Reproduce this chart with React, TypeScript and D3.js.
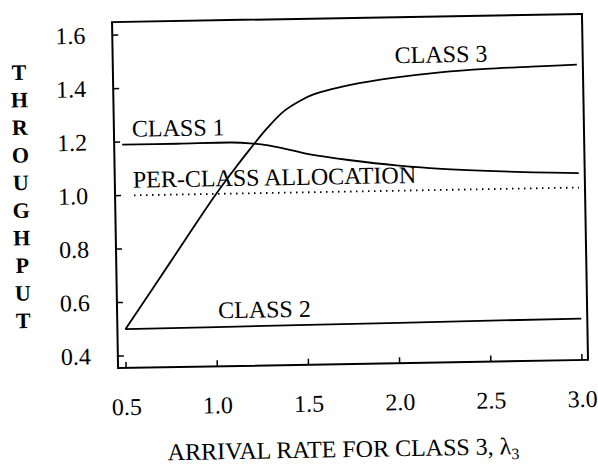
import React from "react";
import * as d3 from "d3";

const xTicks = [0.5, 1.0, 1.5, 2.0, 2.5, 3.0];
const yTicks = [0.4, 0.6, 0.8, 1.0, 1.2, 1.4, 1.6];

const class1X = [0.5, 0.8, 1.1, 1.2, 1.3, 1.4, 1.5, 1.6, 1.75, 2.0, 2.25, 2.5, 2.75, 3.0];
const class1Y = [1.19, 1.19, 1.191, 1.187, 1.178, 1.163, 1.146, 1.133, 1.117, 1.095, 1.079, 1.068, 1.06, 1.054];

const class2X = [0.5, 1.0, 1.5, 2.0, 2.5, 3.0];
const class2Y = [0.5, 0.502, 0.504, 0.506, 0.508, 0.51];

const class3X = [0.5, 0.75, 1.0, 1.1, 1.2, 1.3, 1.39, 1.48, 1.55, 1.66, 1.75, 2.0, 2.25, 2.5, 2.75, 3.0];
const class3Y = [0.5, 0.745, 0.99, 1.08, 1.165, 1.245, 1.305, 1.343, 1.365, 1.385, 1.398, 1.423, 1.44, 1.45, 1.455, 1.46];

const allocX = [0.56, 3.0];
const allocY = [1.0, 1.0];

const yTitle = "THROUGHPUT".split("");

export default function App() {
  const W = 598, H = 471;
  const left = 115, right = 585, top = 18, bottom = 364;
  const x = d3.scaleLinear().domain([0.456, 3.033]).range([left, right]);
  const y = d3.scaleLinear().domain([0.355, 1.649]).range([bottom, top]);

  const mk = (xs: number[], ys: number[], curve: any) =>
    d3.line<number>().x((_, i) => x(xs[i])).y((_, i) => y(ys[i])).curve(curve)(xs.map((_, i) => i)) || "";

  const font = "'Liberation Serif', 'Times New Roman', serif";
  const fs = 24;

  return (
    <svg width={W} height={H} style={{ position: "absolute", left: 0, top: 0, background: "#fff" }}
      fontFamily={font}>
      <rect x={0} y={0} width={W} height={H} fill="#fff" />
      <g transform="rotate(-1, 350, 190)">
        <rect x={left} y={top} width={right - left} height={bottom - top} fill="none" stroke="#000" strokeWidth={2} />
        {xTicks.map((t) => (
          <g key={"xt" + t}>
            <line x1={x(t)} x2={x(t)} y1={bottom} y2={bottom - 6} stroke="#000" strokeWidth={1.5} />
            <text x={x(t)} y={bottom + 47} textAnchor="middle" fontSize={fs}>{t.toFixed(1)}</text>
          </g>
        ))}
        {yTicks.map((t) => (
          <g key={"yt" + t}>
            <line x1={left} x2={left + 6} y1={y(t)} y2={y(t)} stroke="#000" strokeWidth={1.5} />
            <text x={left - 27} y={y(t) + 8} textAnchor="end" fontSize={fs}>{t.toFixed(1)}</text>
          </g>
        ))}
        <path d={mk(allocX, allocY, d3.curveLinear)} fill="none" stroke="#000" strokeWidth={1.8}
          strokeDasharray="1.5 4.5" />
        <path d={mk(class1X, class1Y, d3.curveCatmullRom.alpha(0.5))} fill="none" stroke="#000" strokeWidth={1.8} />
        <path d={mk(class2X, class2Y, d3.curveLinear)} fill="none" stroke="#000" strokeWidth={1.8} />
        <path d={mk(class3X, class3Y, d3.curveCatmullRom.alpha(0.5))} fill="none" stroke="#000" strokeWidth={1.8} />
        <text x={397} y={64} fontSize={fs}>CLASS 3</text>
        <text x={133} y={133} fontSize={fs}>CLASS 1</text>
        <text x={133} y={184} fontSize={fs}>PER-CLASS ALLOCATION</text>
        <text x={216} y={316} fontSize={fs}>CLASS 2</text>
        {yTitle.map((c, i) => (
          <text key={"yl" + i} x={21} y={74 + i * 27.6} textAnchor="middle" fontSize={22} fontWeight="bold">{c}</text>
        ))}
        <text x={339} y={457} textAnchor="middle" fontSize={fs}>
          ARRIVAL RATE FOR CLASS 3, λ<tspan fontSize={16} dy={5}>3</tspan>
        </text>
      </g>
    </svg>
  );
}
